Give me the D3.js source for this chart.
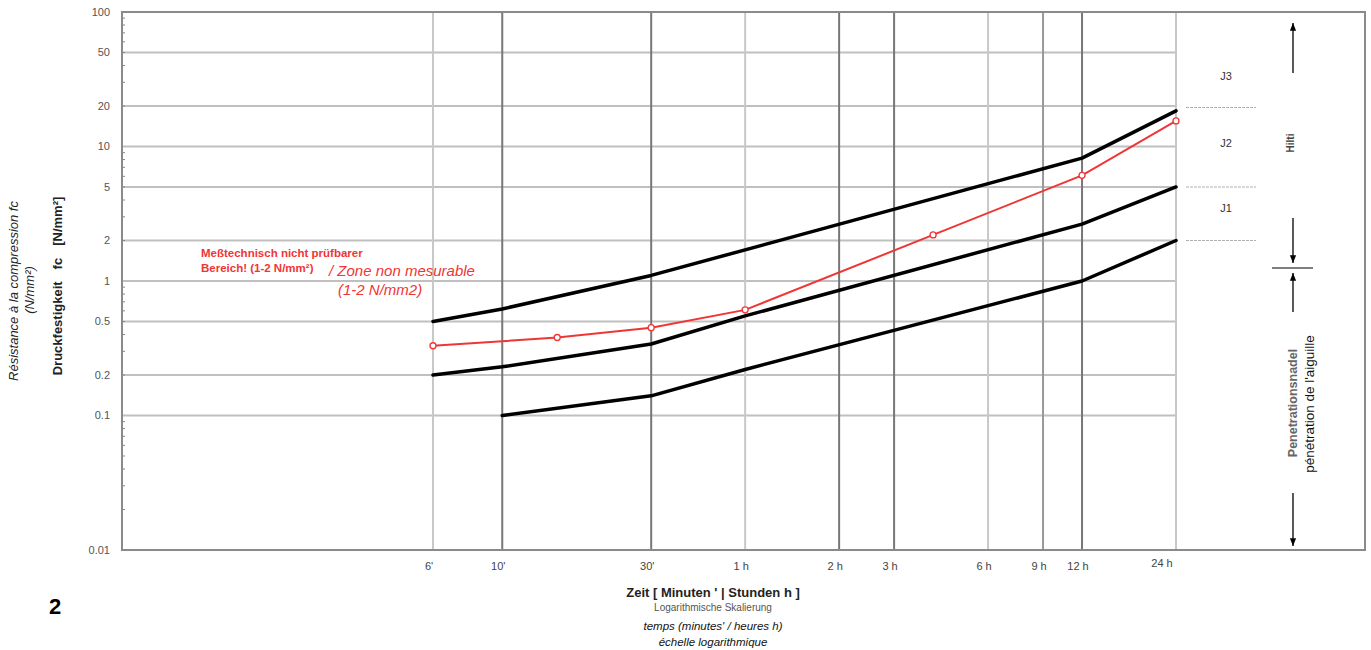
<!DOCTYPE html>
<html><head><meta charset="utf-8">
<script src="https://cdn.jsdelivr.net/npm/d3@7"></script>
<style>body{margin:0;background:#fff;} text{font-family:"Liberation Sans",Arial,sans-serif;}</style>
</head><body><svg id="c" width="1371" height="650"></svg>
<script>
// ---- data ----
const xTicks = [6, 10, 30, 60, 120, 180, 360, 540, 720, 1440]; // minutes
const xTickLabels = ["6'", "10'", "30'", "1 h", "2 h", "3 h", "6 h", "9 h", "12 h", "24 h"];
const xGridTone = ["light", "dark", "dark", "light", "dark", "dark", "light", "mid", "dark", "light"];
const yTicks = [100, 50, 20, 10, 5, 2, 1, 0.5, 0.2, 0.1, 0.01];
const yTickLabels = ["100", "50", "20", "10", "5", "2", "1", "0.5", "0.2", "0.1", "0.01"];

const upperTime = [6, 10, 30, 720, 1440];
const upperValues = [0.5, 0.62, 1.1, 8.2, 18.4];
const middleTime = [6, 10, 30, 60, 720, 1440];
const middleValues = [0.2, 0.23, 0.34, 0.55, 2.65, 5.0];
const lowerTime = [10, 30, 60, 720, 1440];
const lowerValues = [0.1, 0.14, 0.22, 1.0, 2.0];
const redTime = [6, 15, 30, 60, 240, 720, 1440];
const redValues = [0.33, 0.38, 0.45, 0.61, 2.2, 6.1, 15.5];

const classLabels = ["J3", "J2", "J1"];
const classLabelValues = [33.4, 10.6, 3.5];
const classBounds = [19.5, 5, 2];

// ---- layout ----
const svg = d3.select("#c");
const frame = {l: 122, r: 1365, t: 12, b: 550};
const x = d3.scaleLog().domain([6, 1440]).range([433, 1176]);
const y = d3.scaleLog().domain([0.01, 100]).range([frame.b, frame.t]);
const gridEnd = x(1440);

// horizontal grid
svg.append("g").selectAll("line").data(yTicks.filter(v => v !== 0.01 && v !== 100)).join("line")
  .attr("x1", frame.l).attr("x2", gridEnd).attr("y1", d => y(d)).attr("y2", d => y(d))
  .attr("stroke", "#c0c0c0").attr("stroke-width", 2);

// vertical grid
const toneColor = {light: "#c8c8c8", mid: "#999", dark: "#777"};
svg.append("g").selectAll("line").data(xTicks).join("line")
  .attr("x1", d => x(d)).attr("x2", d => x(d)).attr("y1", frame.t).attr("y2", frame.b)
  .attr("stroke", (d, i) => toneColor[xGridTone[i]]).attr("stroke-width", 2);

// frame
svg.append("rect").attr("x", frame.l).attr("y", frame.t).attr("width", frame.r - frame.l).attr("height", frame.b - frame.t)
  .attr("fill", "none").attr("stroke", "#8a8a8a").attr("stroke-width", 2);

// y minor ticks
const minor = [];
[0.01, 0.1, 1, 10].forEach(dec => { for (let k = 2; k <= 9; k++) minor.push(dec * k); });
svg.append("g").selectAll("line").data(minor).join("line")
  .attr("x1", frame.l).attr("x2", frame.l + 3).attr("y1", d => y(d)).attr("y2", d => y(d))
  .attr("stroke", "#888").attr("stroke-width", 1);

// y tick labels
svg.append("g").selectAll("text").data(yTicks).join("text")
  .attr("x", 110).attr("y", d => y(d)).attr("dy", "0.35em").attr("text-anchor", "end")
  .attr("font-size", 11).attr("fill", "#555").text((d, i) => yTickLabels[i]);

// x tick labels
svg.append("g").selectAll("text").data(xTicks).join("text")
  .attr("x", (d, i) => x(d) - (i === 9 ? 14 : 4)).attr("y", (d, i) => i === 9 ? 567 : 570)
  .attr("text-anchor", "middle").attr("font-size", 11).attr("fill", "#444")
  .text((d, i) => xTickLabels[i]);

// series
const line = d3.line().x(d => x(d[0])).y(d => y(d[1]));
function series(t, v) { return t.map((tt, i) => [tt, v[i]]); }
[[upperTime, upperValues], [middleTime, middleValues], [lowerTime, lowerValues]].forEach(([t, v]) => {
  svg.append("path").datum(series(t, v)).attr("d", line).attr("fill", "none")
    .attr("stroke", "#000").attr("stroke-width", 3.5).attr("stroke-linejoin", "round").attr("stroke-linecap", "round");
});
const red = series(redTime, redValues);
svg.append("path").datum(red).attr("d", line).attr("fill", "none").attr("stroke", "#f03535").attr("stroke-width", 2);
svg.append("g").selectAll("circle").data(red).join("circle")
  .attr("cx", d => x(d[0])).attr("cy", d => y(d[1])).attr("r", 3)
  .attr("fill", "#fff").attr("stroke", "#f03535").attr("stroke-width", 1.3);

// right-panel annotations
svg.append("g").selectAll("line").data(classBounds).join("line")
  .attr("x1", 1186).attr("x2", 1256).attr("y1", d => y(d)).attr("y2", d => y(d))
  .attr("stroke", "#b0b0b0").attr("stroke-width", 1).attr("stroke-dasharray", "3,1");
svg.append("g").selectAll("text").data(classLabels).join("text")
  .attr("x", 1226).attr("y", (d, i) => y(classLabelValues[i])).attr("dy", "0.35em")
  .attr("text-anchor", "middle").attr("font-size", 11).attr("fill", "#333").text(d => d);

const defs = svg.append("defs");
defs.append("marker").attr("id", "ah").attr("viewBox", "0 0 10 10").attr("refX", 10).attr("refY", 5)
  .attr("markerWidth", 6).attr("markerHeight", 6).attr("orient", "auto-start-reverse")
  .append("path").attr("d", "M0,1 L10,5 L0,9 Z").attr("fill", "#000");
const ax = 1293;
function arrowLine(y1, y2) {
  svg.append("line").attr("x1", ax).attr("x2", ax).attr("y1", y1).attr("y2", y2)
    .attr("stroke", "#000").attr("stroke-width", 1.3).attr("marker-end", "url(#ah)");
}
arrowLine(73, 23);
arrowLine(218, 263);
arrowLine(312, 273);
arrowLine(493, 546);
svg.append("line").attr("x1", 1272).attr("x2", 1313).attr("y1", 268).attr("y2", 268)
  .attr("stroke", "#555").attr("stroke-width", 1.3);

svg.append("text").attr("transform", "translate(1294,143) rotate(-90)").attr("text-anchor", "middle")
  .attr("font-size", 10).attr("font-weight", "bold").attr("fill", "#444").text("Hilti");
svg.append("text").attr("transform", "translate(1297,403) rotate(-90)").attr("text-anchor", "middle")
  .attr("font-size", 12.5).attr("font-weight", "bold").attr("fill", "#666").text("Penetrationsnadel");
svg.append("text").attr("transform", "translate(1314,404) rotate(-90)").attr("text-anchor", "middle")
  .attr("font-size", 13.5).attr("fill", "#111").text("pénétration de l'aiguille");

// red annotation
svg.append("text").attr("x", 201).attr("y", 257).attr("font-size", 11.5).attr("font-weight", "bold")
  .attr("fill", "#f03535").text("Meßtechnisch nicht prüfbarer");
svg.append("text").attr("x", 201).attr("y", 272).attr("font-size", 11.5).attr("font-weight", "bold")
  .attr("fill", "#f03535").text("Bereich! (1-2 N/mm²)");
svg.append("text").attr("x", 329).attr("y", 276).attr("font-size", 15).attr("font-style", "italic")
  .attr("fill", "#f03535").text("/ Zone non mesurable");
svg.append("text").attr("x", 338).attr("y", 295).attr("font-size", 15).attr("font-style", "italic")
  .attr("fill", "#f03535").text("(1-2 N/mm2)");

// y axis titles
const yt = svg.append("text").attr("transform", "translate(62,286) rotate(-90)").attr("text-anchor", "middle")
  .attr("font-size", 13).attr("font-weight", "bold").attr("fill", "#222");
yt.append("tspan").text("Druckfestigkeit");
yt.append("tspan").attr("dx", 12).text("fc");
yt.append("tspan").attr("dx", 12).text("[N/mm²]");
svg.append("text").attr("transform", "translate(18,291) rotate(-90)").attr("text-anchor", "middle")
  .attr("font-size", 13).attr("font-style", "italic").attr("fill", "#222").text("Résistance à la compression fc");
svg.append("text").attr("transform", "translate(34,290) rotate(-90)").attr("text-anchor", "middle")
  .attr("font-size", 13).attr("font-style", "italic").attr("fill", "#222").text("(N/mm²)");

// x axis titles
svg.append("text").attr("x", 713).attr("y", 597).attr("text-anchor", "middle").attr("font-size", 13)
  .attr("font-weight", "bold").attr("fill", "#222").text("Zeit [ Minuten ' | Stunden h ]");
svg.append("text").attr("x", 713).attr("y", 611).attr("text-anchor", "middle").attr("font-size", 10)
  .attr("fill", "#555").text("Logarithmische Skalierung");
svg.append("text").attr("x", 713).attr("y", 630).attr("text-anchor", "middle").attr("font-size", 11.5)
  .attr("font-style", "italic").attr("fill", "#111").text("temps (minutes' / heures h)");
svg.append("text").attr("x", 713).attr("y", 646).attr("text-anchor", "middle").attr("font-size", 11.5)
  .attr("font-style", "italic").attr("fill", "#111").text("échelle logarithmique");

svg.append("text").attr("x", 55).attr("y", 614).attr("text-anchor", "middle").attr("font-size", 22)
  .attr("font-weight", "bold").attr("fill", "#000").text("2");
</script></body></html>
